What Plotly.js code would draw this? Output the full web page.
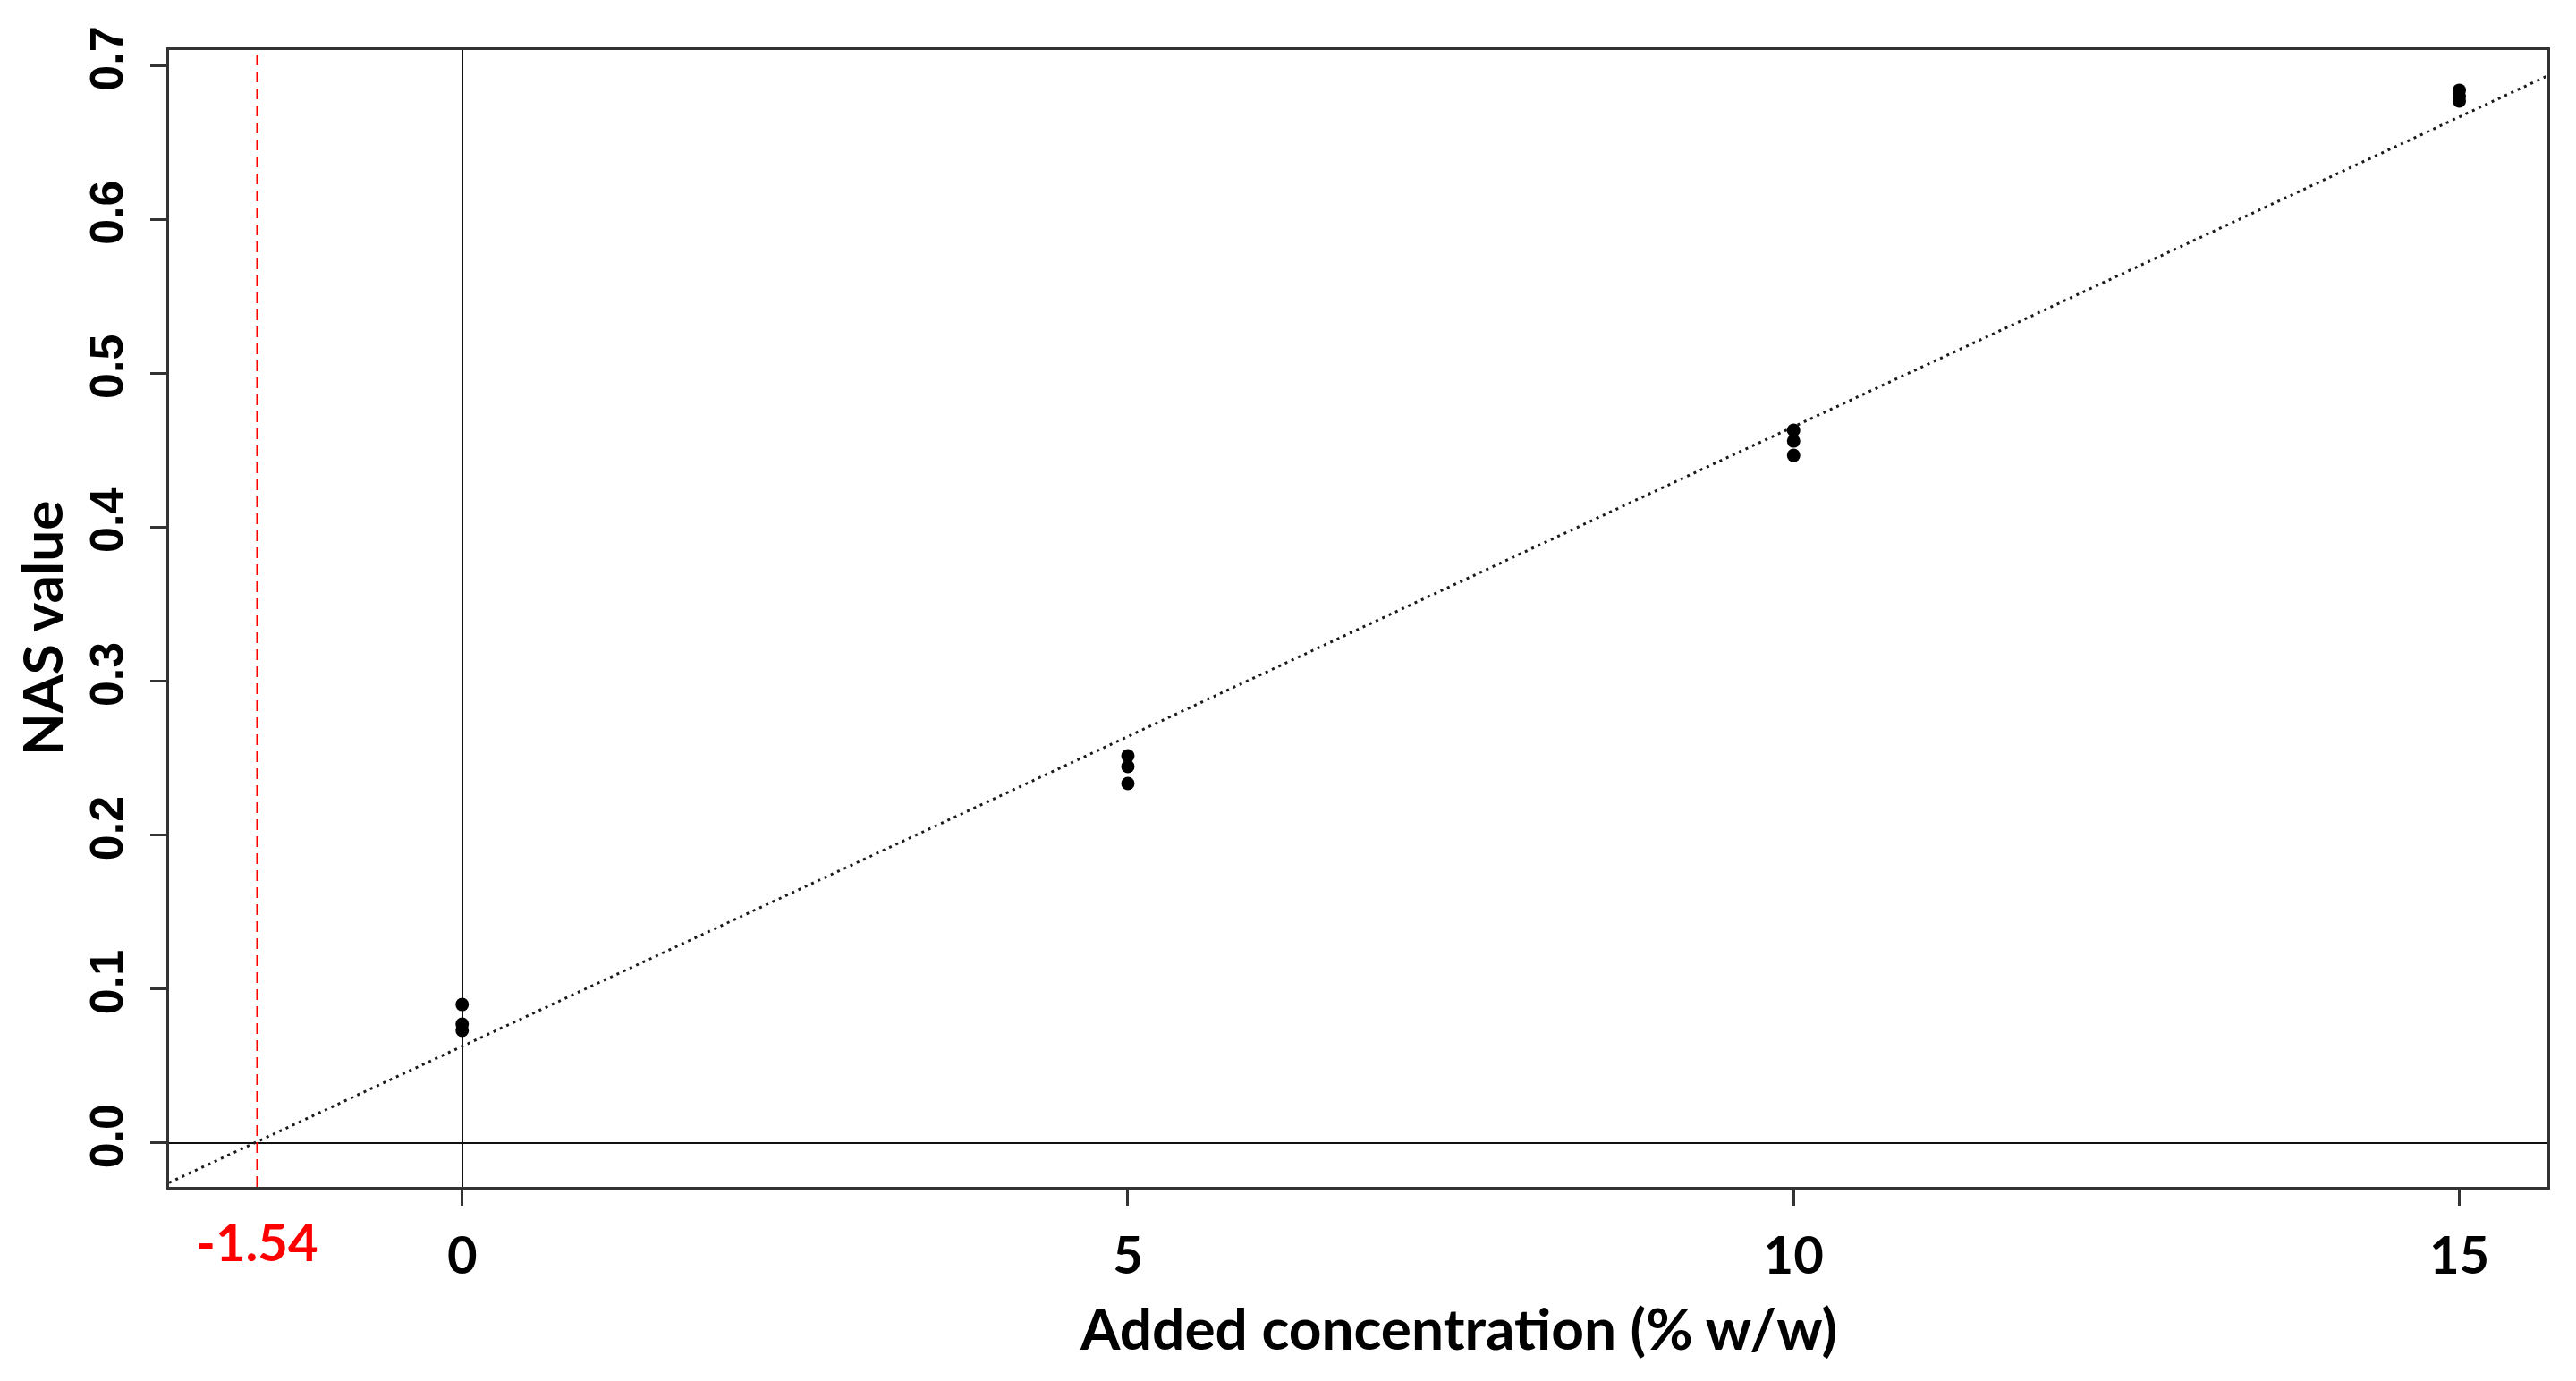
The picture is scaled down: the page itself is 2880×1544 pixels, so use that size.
<!DOCTYPE html>
<html>
<head>
<meta charset="utf-8">
<script src="https://cdn.plot.ly/plotly-3.0.1.min.js"></script>
<style>
  html, body { margin: 0; padding: 0; background: #ffffff; }
  #chart { width: 2880px; height: 1544px; }
</style>
</head>
<body>
<div id="chart"></div>
<script>
// ---- Data ----
const addedConc = [0, 0, 0, 5, 5, 5, 10, 10, 10, 15, 15, 15];
const nasValue  = [0.0900, 0.0772, 0.0732, 0.2516, 0.2446, 0.2336, 0.4631, 0.4561, 0.4468, 0.6840, 0.6800, 0.6770];
const xTickVals = [0, 5, 10, 15];
const xTickText = ["0", "5", "10", "15"];
const yTickVals = [0, 0.1, 0.2, 0.3, 0.4, 0.5, 0.6, 0.7];
const yTickText = ["0.0", "0.1", "0.2", "0.3", "0.4", "0.5", "0.6", "0.7"];
const xIntercept = -1.54;
const xIntLabel = ["-1.54"];
const xTitle = "Added concentration (% w/w)";
const yTitle = "NAS value";
const xRange = [-2.2016, 15.6616];
const yRange = [-0.0285, 0.7101];

// ---- Least-squares fit of the standard addition points ----
const n = addedConc.length;
const mx = addedConc.reduce((a, b) => a + b, 0) / n;
const my = nasValue.reduce((a, b) => a + b, 0) / n;
let sxy = 0, sxx = 0;
for (let i = 0; i < n; i++) {
  sxy += (addedConc[i] - mx) * (nasValue[i] - my);
  sxx += (addedConc[i] - mx) * (addedConc[i] - mx);
}
const slope = sxy / sxx;
const intercept = my - slope * mx;
const fitX = [xRange[0], xRange[1]];
const fitY = fitX.map(x => intercept + slope * x);

const boldSans = "Lato, 'Open Sans', sans-serif";
const arialLike = "'Liberation Sans', Arial, sans-serif";

const traces = [
  {
    x: fitX, y: fitY, type: 'scatter', mode: 'lines',
    line: { color: '#1a1a1a', width: 3, dash: '3px,5px' },
    hoverinfo: 'skip', showlegend: false
  },
  {
    x: addedConc, y: nasValue, type: 'scatter', mode: 'markers',
    marker: { color: '#000000', size: 15 },
    showlegend: false
  },
  {
    // invisible helper so the red label axis is active
    x: [xIntercept], y: [0], xaxis: 'x2', type: 'scatter', mode: 'markers',
    marker: { opacity: 0 }, hoverinfo: 'skip', showlegend: false
  }
];

const layout = {
  width: 2880, height: 1544,
  paper_bgcolor: '#ffffff', plot_bgcolor: '#ffffff',
  margin: { l: 189, r: 32, t: 56, b: 217 },
  showlegend: false,
  xaxis: {
    range: xRange, autorange: false,
    tickmode: 'array', tickvals: xTickVals, ticktext: xTickText,
    ticks: 'outside', ticklen: 18, tickwidth: 3, tickcolor: '#333333',
    tickfont: { family: boldSans, size: 58, color: '#000000', weight: 'bold' },
    ticklabelstandoff: 6,
    showline: true, linecolor: '#333333', linewidth: 3, mirror: true,
    showgrid: false,
    zeroline: true, zerolinecolor: '#111111', zerolinewidth: 2
  },
  xaxis2: {
    overlaying: 'x', side: 'bottom', anchor: 'y',
    range: xRange, autorange: false,
    tickmode: 'array', tickvals: [xIntercept], ticktext: xIntLabel,
    ticks: '', ticklen: 0,
    tickfont: { family: boldSans, size: 58, color: '#ff0000', weight: 'bold' },
    ticklabelstandoff: 24,
    showline: false, showgrid: false, zeroline: false
  },
  yaxis: {
    range: yRange, autorange: false,
    tickmode: 'array', tickvals: yTickVals, ticktext: yTickText,
    tickangle: -90,
    ticks: 'outside', ticklen: 18, tickwidth: 3, tickcolor: '#333333',
    tickfont: { family: arialLike, size: 52, color: '#000000', weight: 'bold' },
    ticklabelstandoff: 10,
    showline: true, linecolor: '#333333', linewidth: 3, mirror: true,
    showgrid: false,
    zeroline: true, zerolinecolor: '#111111', zerolinewidth: 2
  },
  annotations: [
    {
      text: xTitle, xref: 'paper', yref: 'paper',
      x: 0.542, y: -0.1236, xanchor: 'center', yanchor: 'middle',
      showarrow: false,
      font: { family: boldSans, size: 64, color: '#000000', weight: 'bold' }
    },
    {
      text: yTitle, xref: 'paper', yref: 'paper',
      x: -0.0538, y: 0.4917, xanchor: 'center', yanchor: 'middle',
      textangle: -90, showarrow: false,
      font: { family: boldSans, size: 62, color: '#000000', weight: 'bold' }
    }
  ],
  shapes: [
    {
      type: 'line', xref: 'x', yref: 'paper',
      x0: xIntercept, x1: xIntercept, y0: 0, y1: 1,
      line: { color: '#ff0000', width: 2, dash: '12px,7px' }
    }
  ]
};

Plotly.newPlot('chart', traces, layout, { staticPlot: true, displayModeBar: false });
</script>
</body>
</html>
